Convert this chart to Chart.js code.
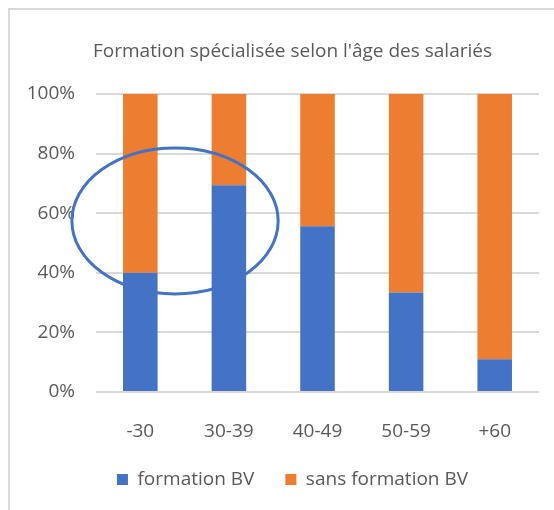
<!DOCTYPE html>
<html>
<head>
<meta charset="utf-8">
<script src="https://cdn.jsdelivr.net/npm/chart.js@4"></script>
<style>
html,body{margin:0;padding:0;background:#fff;overflow:hidden;width:554px;height:510px}
#frame{position:absolute;left:8px;top:8px;width:620px;height:600px;border-top:2px solid #d9d9d9;border-left:2px solid #d9d9d9}
#chart{position:absolute;left:10px;top:10px}
</style>
</head>
<body>
<div id="frame"></div>
<canvas id="chart" width="565" height="500"></canvas>
<script>
const categories = ["-30", "30-39", "40-49", "50-59", "+60"]
const formationBV = [40, 69.4, 55.6, 33.4, 11]
const sansFormationBV = [60, 30.6, 44.4, 66.6, 89]
const yTicks = [0, 20, 40, 60, 80, 100]

const textColor = "#595959"
const fontFamily = "'Open Sans', sans-serif"

// ellipse drawn by hand on the original, placed in scale units
const ellipse = { xIndex: 0.392, xRadius: 1.164, yValue: 57.4, yRadius: 24.5 }

const ellipsePlugin = {
id: "ellipse",
afterDatasetsDraw(chart){
const x = chart.scales.x
const y = chart.scales.y
const x0 = x.getPixelForValue(0)
const step = x.getPixelForValue(1) - x0
const cx = x0 + ellipse.xIndex * step
const rx = ellipse.xRadius * step
const cy = y.getPixelForValue(ellipse.yValue)
const ry = y.getPixelForValue(0) - y.getPixelForValue(ellipse.yRadius)
const ctx = chart.ctx
ctx.save()
ctx.beginPath()
ctx.ellipse(cx, cy, rx, ry, 0, 0, Math.PI * 2)
ctx.lineWidth = 3
ctx.strokeStyle = "#4472C4"
ctx.stroke()
ctx.restore()
}
}

new Chart(document.getElementById("chart"), {
type: "bar",
data: {
labels: categories,
datasets: [
{ label: "formation BV", data: formationBV, backgroundColor: "#4472C4", categoryPercentage: 1, barPercentage: 0.39 },
{ label: "sans formation BV", data: sansFormationBV, backgroundColor: "#ED7D31", categoryPercentage: 1, barPercentage: 0.39 }
]
},
options: {
responsive: false,
animation: false,
layout: { padding: { left: 0, right: 0, top: 0, bottom: 11 } },
plugins: {
title: {
display: true,
text: "Formation spécialisée selon l'âge des salariés",
color: textColor,
font: { family: fontFamily, size: 19, weight: "normal" },
padding: { top: 30.6, bottom: 30.6 }
},
legend: {
position: "bottom",
labels: {
color: textColor,
font: { family: fontFamily, size: 19 },
boxWidth: 11,
boxHeight: 11,
padding: 31
}
},
tooltip: { enabled: false }
},
scales: {
x: {
stacked: true,
afterFit(scale){ scale.height = 47 },
grid: { display: false },
border: { display: false },
ticks: { color: textColor, font: { family: fontFamily, size: 19 }, padding: 20 }
},
y: {
stacked: true,
min: 0,
max: 100,
afterBuildTicks(scale){ scale.ticks = yTicks.map(v => ({ value: v })) },
afterFit(scale){ scale.width = 86 },
grid: { color: "#d9d9d9", lineWidth: 2, drawTicks: false },
border: { display: false },
ticks: { color: textColor, font: { family: fontFamily, size: 19 }, padding: 21, callback: v => v + "%" }
},
yr: {
position: "right",
display: true,
afterFit(scale){ scale.width = 36 },
grid: { display: false },
border: { display: false },
ticks: { display: false }
}
}
},
plugins: [ellipsePlugin]
})
</script>
</body>
</html>
